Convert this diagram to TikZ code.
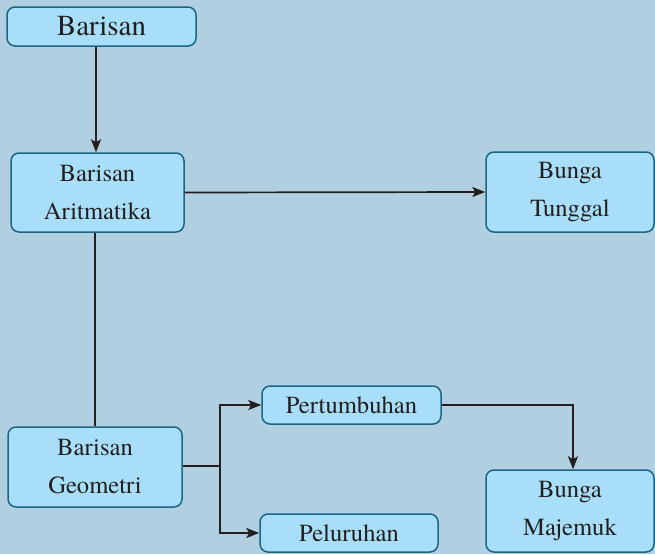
\documentclass[tikz,border=0pt]{standalone}
\usepackage{fontspec}
\setmainfont{TeX Gyre Termes}
\usetikzlibrary{arrows.meta}
\definecolor{bg}{HTML}{B0CFE0}
\definecolor{boxfill}{HTML}{A8DEF7}
\definecolor{boxline}{HTML}{1C6587}
\definecolor{ink}{HTML}{231F20}
\begin{document}
\begin{tikzpicture}[x=1pt,y=-1pt,
  box/.style={draw=boxline,fill=boxfill,line width=1.5pt,rounded corners=8pt,
    text=ink,align=center,inner sep=0pt,font=\fontsize{24.6}{38}\selectfont},
  conn/.style={draw=ink,line width=1.7pt},
  arr/.style={conn,-{Stealth[length=13pt,width=10pt,inset=3pt]}}]
\fill[bg] (0,0) rectangle (655,554);
\useasboundingbox (0,0) rectangle (655,554);
\node[box,minimum width=189pt,minimum height=39pt,font=\fontsize{29}{34}\selectfont] (bar) at (101.5,26.5) {Barisan};
\node[box,minimum width=173pt,minimum height=79pt] (ari) at (97.5,192.5) {Barisan\\Aritmatika};
\node[box,minimum width=168pt,minimum height=80pt] (tun) at (570,192) {Bunga\\Tunggal};
\node[box,minimum width=174pt,minimum height=80pt] (geo) at (95,467) {Barisan\\Geometri};
\node[box,minimum width=179pt,minimum height=38pt] (per) at (351.5,405) {Pertumbuhan};
\node[box,minimum width=178pt,minimum height=38pt] (pel) at (349,533) {Peluruhan};
\node[box,minimum width=168pt,minimum height=82pt] (maj) at (570,511) {Bunga\\Majemuk};
\coordinate (j) at (220,466);
\draw[arr] (bar.south -| 96,0) -- (ari.north -| 96,0);
\draw[arr] (ari.east) -- (tun.west);
\draw[conn] (ari.south -| 95,0) -- (geo.north -| 95,0);
\draw[conn] (geo.east |- j) -- (j);
\draw[arr] (j) |- (per.west);
\draw[arr] (j) |- (pel.west);
\draw[arr] (per.east) -| (maj.north -| 573,0);
\end{tikzpicture}
\end{document}
